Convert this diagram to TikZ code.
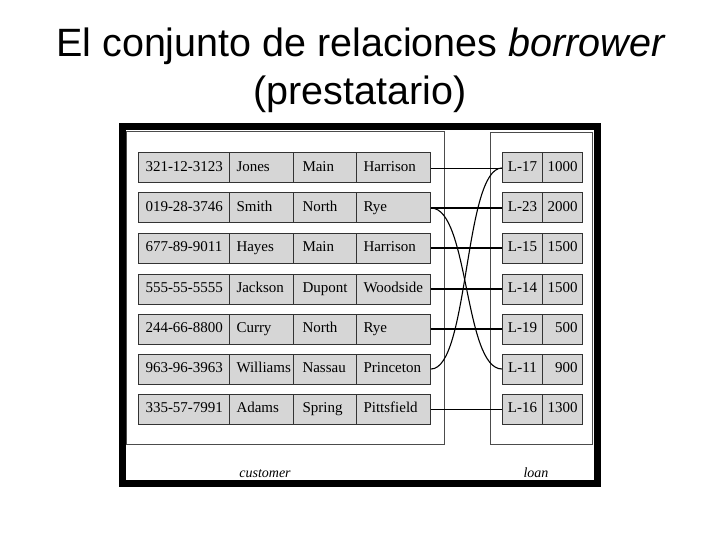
\documentclass[tikz,border=0pt]{standalone}
\usepackage{fontspec}
\setmainfont{Liberation Serif}
\setsansfont{Liberation Sans}
\usepackage{xcolor}
\usepackage{tikz}
\usetikzlibrary{positioning}

\definecolor{cellgray}{gray}{0.84}
\definecolor{panelgray}{gray}{0.30}

\begin{document}
\begin{tikzpicture}[x=1pt, y=-1pt,
    cell/.style={draw=black!80, line width=1pt, fill=cellgray, anchor=west,
        minimum height=30pt, inner ysep=0pt, text height=10.5pt, text depth=3pt,
        font=\fontsize{15}{17}\selectfont,
        execute at begin node={\exhyphenpenalty=10000 \hyphenpenalty=10000 }},
    colid/.style={cell, inner xsep=7pt, text width=77pt, align=left},
    colname/.style={cell, inner xsep=7pt, text width=50pt, align=left},
    colstreet/.style={cell, inner xsep=9pt, text width=45pt, align=left},
    colcity/.style={cell, inner xsep=7pt, text width=60pt, align=left},
    colloan/.style={cell, minimum width=40pt, inner xsep=2pt},
    colamount/.style={cell, inner xsep=5pt, text width=30pt, align=right},
    thinlink/.style={line width=0.9pt},
    thicklink/.style={line width=1.7pt},
    caption/.style={font=\itshape\fontsize{14}{16}\selectfont, anchor=base}]
    \useasboundingbox (0,0) rectangle (720,540);

    % Title
    \node[font=\sffamily\fontsize{39.5}{48}\selectfont, anchor=base] (title1) at (361,57) {El conjunto de relaciones \textit{borrower}};
    \node[font=\sffamily\fontsize{39.5}{48}\selectfont, anchor=base] (title2) at (360,105) {(prestatario)};

    % Panels and frame
    \draw[panelgray, line width=0.9pt] (126,131) rectangle (444,444);
    \draw[panelgray, line width=0.9pt] (490,132) rectangle (592,444);
    \draw[line width=7pt] (122.5,126.5) rectangle (597,483);

    % Customer rows
    \node[colid] (c1a) at (138,168) {321-12-3123};
    \node[colname] (c1b) at (229,168) {Jones};
    \node[colstreet] (c1c) at (293,168) {Main};
    \node[colcity] (c1d) at (356,168) {Harrison};

    \node[colid] (c2a) at (138,208) {019-28-3746};
    \node[colname] (c2b) at (229,208) {Smith};
    \node[colstreet] (c2c) at (293,208) {North};
    \node[colcity] (c2d) at (356,208) {Rye};

    \node[colid] (c3a) at (138,248) {677-89-9011};
    \node[colname] (c3b) at (229,248) {Hayes};
    \node[colstreet] (c3c) at (293,248) {Main};
    \node[colcity] (c3d) at (356,248) {Harrison};

    \node[colid] (c4a) at (138,289) {555-55-5555};
    \node[colname] (c4b) at (229,289) {Jackson};
    \node[colstreet] (c4c) at (293,289) {Dupont};
    \node[colcity] (c4d) at (356,289) {Woodside};

    \node[colid] (c5a) at (138,329) {244-66-8800};
    \node[colname] (c5b) at (229,329) {Curry};
    \node[colstreet] (c5c) at (293,329) {North};
    \node[colcity] (c5d) at (356,329) {Rye};

    \node[colid] (c6a) at (138,369) {963-96-3963};
    \node[colname] (c6b) at (229,369) {Williams};
    \node[colstreet] (c6c) at (293,369) {Nassau};
    \node[colcity] (c6d) at (356,369) {Princeton};

    \node[colid] (c7a) at (138,409) {335-57-7991};
    \node[colname] (c7b) at (229,409) {Adams};
    \node[colstreet] (c7c) at (293,409) {Spring};
    \node[colcity] (c7d) at (356,409) {Pittsfield};

    % Loan rows
    \node[colloan] (l1a) at (502,168) {L-17};
    \node[colamount] (l1b) at (542,168) {1000};
    \node[colloan] (l2a) at (502,208) {L-23};
    \node[colamount] (l2b) at (542,208) {2000};
    \node[colloan] (l3a) at (502,248) {L-15};
    \node[colamount] (l3b) at (542,248) {1500};
    \node[colloan] (l4a) at (502,289) {L-14};
    \node[colamount] (l4b) at (542,289) {1500};
    \node[colloan] (l5a) at (502,329) {L-19};
    \node[colamount] (l5b) at (542,329) {500};
    \node[colloan] (l6a) at (502,369) {L-11};
    \node[colamount] (l6b) at (542,369) {900};
    \node[colloan] (l7a) at (502,409) {L-16};
    \node[colamount] (l7b) at (542,409) {1300};

    % Links
    \draw[thinlink] (c1d.east) -- (l1a.west);
    \draw[thicklink] (c2d.east) -- (l2a.west);
    \draw[thicklink] (c3d.east) -- (l3a.west);
    \draw[thicklink] (c4d.east) -- (l4a.west);
    \draw[thicklink] (c5d.east) -- (l5a.west);
    \draw[thinlink] (c7d.east) -- (l7a.west);
    \draw[line width=1.1pt] (c2d.east) .. controls +(38,0) and +(-38,0) .. (l6a.west);
    \draw[line width=1.1pt] (c6d.east) .. controls +(38,0) and +(-38,0) .. (l1a.west);

    % Captions
    \node[caption] (custname) at (265,477) {customer};
    \node[caption] (loanname) at (536,477) {loan};
\end{tikzpicture}
\end{document}
